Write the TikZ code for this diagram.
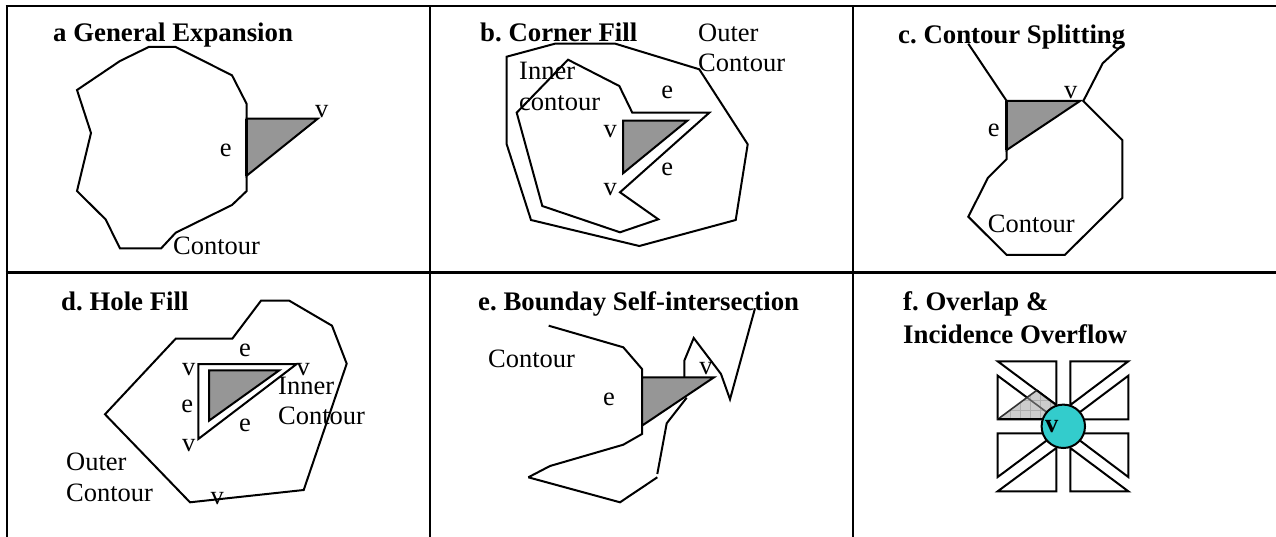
\documentclass[tikz,border=0pt]{standalone}
\usepackage{fontspec}
\setmainfont{Liberation Serif}
\frenchspacing
\definecolor{seedgray}{HTML}{969696}
\definecolor{teal}{HTML}{33CCCC}
\definecolor{lightg}{HTML}{CCCCCC}
\definecolor{gridg}{HTML}{ADADAD}
\tikzset{
  rule/.style={line width=2.6pt,black},
  contour/.style={line width=2pt,black,line join=miter},
  seed/.style={line width=2pt,black,fill=seedgray,line join=miter},
  label/.style={inner sep=0pt,anchor=base west,yshift=-0.7pt,font=\fontsize{26.5}{30}\selectfont},
  sym/.style={inner sep=0pt,anchor=base,yshift=-1.2pt,font=\fontsize{26.5}{30}\selectfont},
  heading/.style={inner sep=0pt,anchor=base west,yshift=-0.7pt,font=\fontsize{26.8}{30}\selectfont\bfseries},
  wedge/.style={line width=2pt,black,fill=white,line join=miter},
}
\begin{document}
\begin{tikzpicture}[x=1pt,y=-1pt]
\useasboundingbox (0,0) rectangle (1276,537);
% table rules
\draw[rule] (5.7,6) -- (1276,6);
\draw[rule] (5.7,272.5) -- (1276,272.5);
\draw[rule] (7,6) -- (7,537);
\draw[rule] (430,6) -- (430,537);
\draw[rule] (853,6) -- (853,537);
% panel a
\draw[contour] (161,248.5) -- (120,248.5) -- (105.7,219.5) -- (77,191) -- (91,133) -- (77,90) -- (120,61) -- (148.7,47) -- (175.7,47) -- (232,75.3) -- (246.7,104) -- (246.7,191) -- (232,205) -- (175.7,232.7) -- cycle;
\draw[seed] (246.7,118.7) -- (317.7,118.7) -- (246.7,175.7) -- cycle;
\draw[line width=3pt] (246.7,118.7) -- (246.7,175.7);
\node[heading] (ta) at (53,40.7) {a General Expansion};
\node[label] (ca) at (173,254) {Contour};
\node[sym] (ea) at (225.7,155.7) {e};
\node[sym] (va) at (321.7,116.7) {v};
% panel b
\draw[contour] (506.7,56.7) -- (555,43.7) -- (615.3,43.7) -- (699.3,69.3) -- (747.7,144.3) -- (735.7,220) -- (639.3,246) -- (531,220) -- (506.7,144.3) -- cycle;
\draw[contour] (568,59.7) -- (619.3,86) -- (632.3,112.7) -- (709.3,112.7) -- (620,192.3) -- (658.3,219.3) -- (620,232.3) -- (542.3,206) -- (516.7,112.7) -- cycle;
\draw[seed] (623,120.7) -- (687.3,120.7) -- (623,173.3) -- cycle;
\node[heading] (tb) at (480,41) {b. Corner Fill};
\node[label] (ob) at (698,40.7) {Outer};
\node[label] (cb) at (698,70.7) {Contour};
\node[label] (ib) at (519,79) {Inner};
\node[label] (kb) at (519,110) {contour};
\node[sym] (eb) at (667.3,97.7) {e};
\node[sym] (vb) at (610.3,136) {v};
\node[sym] (fb) at (667.3,174.7) {e};
\node[sym] (wb) at (610.3,194.3) {v};
% panel c
\draw[contour] (968.3,43.7) -- (1006.7,101) -- (1006.7,159) -- (988,177.7) -- (968.3,216.7) -- (1006.7,255) -- (1064.7,255) -- (1122.3,198) -- (1122.3,140) -- (1083.3,101) -- (1102.7,63.3) -- (1121.7,45.7);
\draw[seed] (1006.7,101) -- (1080,101) -- (1006.7,150) -- cycle;
\draw[line width=3pt] (1006.7,101) -- (1006.7,150);
\node[heading] (tc) at (898,43.3) {c. Contour Splitting};
\node[sym] (vc) at (1070.7,97.3) {v};
\node[sym] (ec) at (993.7,135.7) {e};
\node[label] (cc) at (987.7,231.7) {Contour};
% panel d
\draw[contour] (105,414.3) -- (175.7,338.7) -- (232.3,338.7) -- (261,300.7) -- (289.3,300.7) -- (332,325.7) -- (346.7,363.7) -- (303.7,490) -- (190,502.3) -- cycle;
\draw[contour] (198.3,364) -- (296.7,364) -- (198.3,439) -- cycle;
\draw[seed] (209,370.3) -- (279.3,370.3) -- (209,420.7) -- cycle;
\node[heading] (td) at (61,310) {d. Hole Fill};
\node[sym] (ed) at (245,355) {e};
\node[sym] (vd) at (188.7,374) {v};
\node[sym] (wd) at (303.3,374) {v};
\node[label] (id) at (278,393.3) {Inner};
\node[label] (kd) at (278,424) {Contour};
\node[sym] (fd) at (187.3,411.7) {e};
\node[sym] (gd) at (245,430.7) {e};
\node[sym] (xd) at (188.7,450.7) {v};
\node[label] (od) at (66,470) {Outer};
\node[label] (cd) at (66,500.7) {Contour};
\node[sym] (yd) at (217.3,503.3) {v};
% panel e
\draw[contour] (548.7,325.7) -- (623.3,347.3) -- (642,369) -- (642,434) -- (623.3,444.7) -- (550,466) -- (528.3,477.3);
\draw[contour] (528.3,477.3) -- (620,502.3) -- (657.3,477.3);
\draw[contour] (657.3,474) -- (666.7,423.3) -- (686.7,397.7);
\draw[contour] (684.3,377.3) -- (684.3,360.7) -- (693.7,338) -- (721,374) -- (730,399.3) -- (755,308.3);
\draw[seed] (642,377.3) -- (714,377.3) -- (642,425.7) -- cycle;
\node[heading] (te) at (478,310) {e. Bounday Self-intersection};
\node[label] (ce) at (488,366.7) {Contour};
\node[sym] (ee) at (609,404.3) {e};
\node[sym] (ve) at (706,373.3) {v};
% panel f
\draw[wedge] (997.7,361.3) -- (1056.3,361.3) -- (1056.3,405) -- cycle;
\draw[wedge] (997.7,375.7) -- (997.7,419.3) -- (1056.3,419.3) -- cycle;
\begin{scope}
\clip (997.7,419.3) -- (1036.7,390.3) -- (1056.3,405) -- (1056.3,419.3) -- cycle;
\fill[lightg] (990,385) rectangle (1060,425);
\draw[gridg,line width=.7pt,step=10pt] (990,385) grid (1060,425);
\end{scope}
\draw[line width=1.6pt,black!65] (1027,397.5) -- (1056.3,419.3);
\draw[line width=1.6pt,black!80] (997.7,419.3) -- (1036.7,390.3);
\draw[line width=2pt] (997.7,419.3) -- (1056.3,419.3);
\draw[line width=2pt] (1036.7,390.3) -- (1056.3,405);
\draw[wedge] (1128.3,361.3) -- (1070.3,361.3) -- (1070.3,405) -- cycle;
\draw[wedge] (1128.3,375.7) -- (1128.3,419.3) -- (1070.3,419.3) -- cycle;
\draw[wedge] (997.7,433.3) -- (1056.3,433.3) -- (997.7,477) -- cycle;
\draw[wedge] (1056.3,448) -- (1056.3,491.3) -- (997.7,491.3) -- cycle;
\draw[wedge] (1128.3,433.3) -- (1070.3,433.3) -- (1128.3,477) -- cycle;
\draw[wedge] (1070.3,448) -- (1070.3,491.3) -- (1128.3,491.3) -- cycle;
\node[circle,draw=black,line width=2pt,fill=teal,minimum size=43.4pt,inner sep=0pt] (hub) at (1063.3,426.3) {};
\node[heading] (tf) at (903,310) {f. Overlap \&};
\node[heading] (tg) at (903,343) {Incidence Overflow};
\node[sym,font=\fontsize{26.5}{30}\selectfont\bfseries] (vf) at (1051.7,431.7) {v};
\end{tikzpicture}
\end{document}
